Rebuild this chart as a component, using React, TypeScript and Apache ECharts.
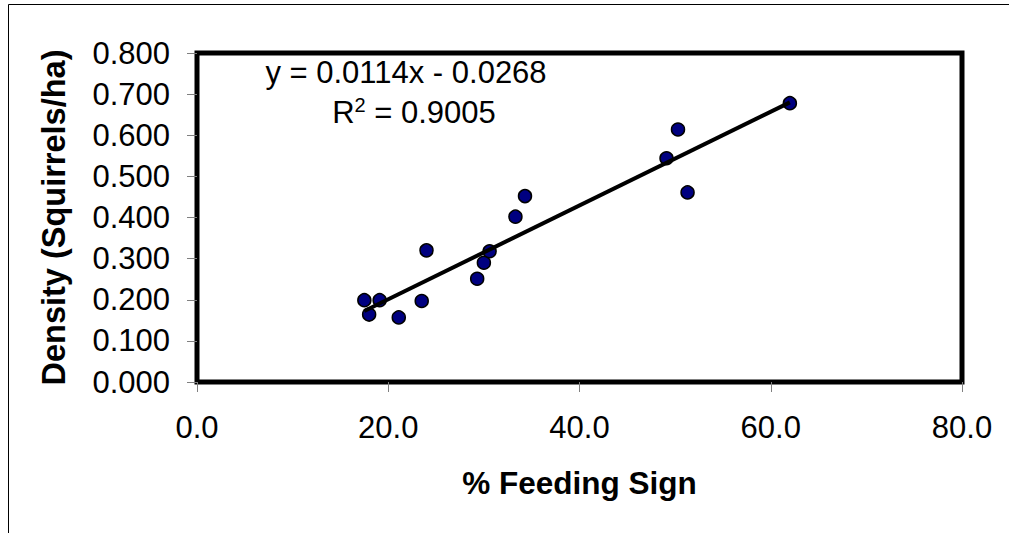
import React, { useEffect, useRef } from "react";
import * as echarts from "echarts";

const feedingSign: number[] = [17.5, 18.0, 19.1, 21.1, 23.5, 24.0, 29.3, 30.0, 30.6, 33.3, 34.3, 49.1, 50.3, 51.3, 62.0];
const density: number[] = [0.199, 0.164, 0.199, 0.157, 0.197, 0.320, 0.251, 0.290, 0.318, 0.402, 0.452, 0.544, 0.614, 0.461, 0.678];
const trendSlope = 0.0114;
const trendIntercept = -0.0268;
const trendRange: number[] = [17.5, 62.0];
const equationText = "y = 0.0114x - 0.0268";
const r2Value = "0.9005";

const FONT = "Liberation Sans, Arial, sans-serif";

export default function App() {
  const ref = useRef<HTMLDivElement>(null);
  useEffect(() => {
    if (!ref.current) return;
    const chart = echarts.init(ref.current, null, { renderer: "svg" });
    const points = feedingSign.map((x, i) => [x, density[i]]);
    const trend = trendRange.map((x) => [x, trendSlope * x + trendIntercept]);
    chart.setOption({
      animation: false,
      backgroundColor: "#ffffff",
      grid: {
        left: 197,
        top: 53,
        right: 1009 - 962,
        bottom: 533 - 382,
        show: true,
        borderColor: "#000000",
        borderWidth: 5,
        containLabel: false,
      },
      xAxis: {
        type: "value",
        min: 0,
        max: 80,
        interval: 20,
        name: "% Feeding Sign",
        nameLocation: "middle",
        nameGap: 85,
        nameTextStyle: { fontFamily: FONT, fontSize: 31.5, fontWeight: "bold", color: "#000" },
        axisLine: { show: false },
        axisTick: { show: true, inside: false, length: 10, lineStyle: { color: "#808080", width: 1 } },
        splitLine: { show: false },
        axisLabel: {
          margin: 30,
          fontFamily: FONT,
          fontSize: 31,
          color: "#000",
          formatter: (v: number) => v.toFixed(1),
        },
      },
      yAxis: {
        type: "value",
        min: 0,
        max: 0.8,
        interval: 0.1,
        name: "Density (Squirrels/ha)",
        nameLocation: "middle",
        nameGap: 127,
        nameTextStyle: { fontFamily: FONT, fontSize: 32.5, fontWeight: "bold", color: "#000" },
        axisLine: { show: false },
        axisTick: { show: true, inside: false, length: 10, lineStyle: { color: "#808080", width: 1 } },
        splitLine: { show: false },
        axisLabel: {
          margin: 27,
          fontFamily: FONT,
          fontSize: 31,
          color: "#000",
          formatter: (v: number) => v.toFixed(3),
        },
      },
      series: [
        {
          type: "scatter",
          data: points,
          symbol: "circle",
          symbolSize: 13,
          itemStyle: { color: "#000080", borderColor: "#000000", borderWidth: 1.5, opacity: 1 },
          z: 2,
        },
        {
          type: "line",
          data: trend,
          symbol: "none",
          lineStyle: { color: "#000000", width: 4 },
          z: 3,
        },
      ],
      graphic: [
        {
          type: "rect",
          shape: { x: 8.5, y: 4.5, width: 1400, height: 900 },
          style: { fill: "none", stroke: "#000000", lineWidth: 1 },
          silent: true,
        },
        {
          type: "text",
          x: 406,
          y: 72,
          style: {
            text: equationText,
            fontFamily: FONT,
            fontSize: 31,
            fill: "#000",
            textAlign: "center",
            textVerticalAlign: "middle",
          },
        },
        {
          type: "text",
          x: 414,
          y: 112,
          style: {
            text: "{a|R}{s|2}{a| = " + r2Value + "}",
            fontFamily: FONT,
            fontSize: 31,
            fill: "#000",
            textAlign: "center",
            textVerticalAlign: "middle",
            rich: {
              a: { fontFamily: FONT, fontSize: 31, fill: "#000", lineHeight: 35 },
              s: { fontFamily: FONT, fontSize: 20, fill: "#000", lineHeight: 35, verticalAlign: "top", padding: [0, 0, 14, 0] },
            },
          },
        },
      ],
    });
    return () => chart.dispose();
  }, []);
  return (
    <div
      ref={ref}
      style={{ position: "fixed", left: 0, top: 0, width: 1009, height: 533 }}
    />
  );
}
